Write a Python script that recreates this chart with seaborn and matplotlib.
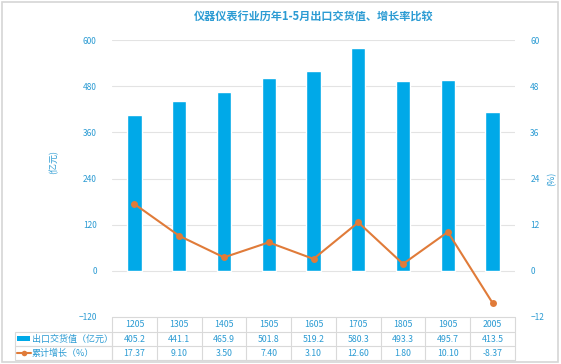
import numpy as np
import matplotlib
matplotlib.use("Agg")
import matplotlib.pyplot as plt
from matplotlib.patches import Rectangle
from matplotlib.lines import Line2D
import seaborn as sns

years = ["1205", "1305", "1405", "1505", "1605", "1705", "1805", "1905", "2005"]
export_value = [405.2, 441.1, 465.9, 501.8, 519.2, 580.3, 493.3, 495.7, 413.5]
growth = [17.37, 9.10, 3.50, 7.40, 3.10, 12.60, 1.80, 10.10, -8.37]
left_ticks = [-120, 0, 120, 240, 360, 480, 600]
right_ticks = [-12, 0, 12, 24, 36, 48, 60]
title = "仪器仪表行业历年1-5月出口交货值、增长率比较"
row_labels = ["出口交货值（亿元）", "累计增长（%）"]

BLUE = "#00a9e8"
ORANGE = "#e07b39"
TXT = "#2b9bd3"
GRID = "#e3e3e3"

sns.set_theme(style="white")
plt.rcParams["font.family"] = ["Noto Sans CJK SC", "DejaVu Sans"]

fig = plt.figure(figsize=(5.61, 3.64), dpi=100)
ax = fig.add_axes([112 / 561, 1 - 317 / 364, 403 / 561, 277 / 364])

sns.barplot(x=years, y=export_value, color=BLUE, width=0.32, saturation=1, ax=ax, zorder=3)
ax.set_ylim(-120, 600)
ax.set_xlim(-0.5, len(years) - 0.5)
ax.set_yticks(left_ticks)
ax.set_xticks([])
ax.set_xlabel("")
ax.set_ylabel("(亿元)", color=TXT, fontsize=6.5)
ax.yaxis.set_label_coords(-0.134, 0.56)
for t in left_ticks[1:]:
    ax.axhline(t, color=GRID, lw=0.8, zorder=0)
ax.tick_params(axis="y", colors=TXT, labelsize=6, length=0, pad=11)
for s in ax.spines.values():
    s.set_visible(False)

ax2 = ax.twinx()
sns.lineplot(x=np.arange(len(years)), y=growth, color=ORANGE, lw=1.5, marker="o",
             markersize=5, markeredgewidth=0, ax=ax2, zorder=4)
ax2.set_ylim(-12, 60)
ax2.set_yticks(right_ticks)
ax2.set_ylabel("(%)", color=TXT, fontsize=6.5, rotation=90)
ax2.yaxis.set_label_coords(1.08, 0.5)
ax2.tick_params(axis="y", colors=TXT, labelsize=6, length=0, pad=11)
for s in ax2.spines.values():
    s.set_visible(False)
ax2.set_xlim(-0.5, len(years) - 0.5)

ax.set_title(title, color=TXT, fontsize=8, fontweight="bold", pad=15)

# data table under the plot
trans = ax.get_xaxis_transform()
h = 277.0
rows_y = [0, -15 / h, -29 / h, -43 / h]
tab_color = "#d9d9d9"
for yb in rows_y:
    ax.plot([-0.5, len(years) - 0.5], [yb, yb], transform=trans, color=tab_color, lw=0.8, clip_on=False)
for i in range(len(years) + 1):
    ax.plot([i - 0.5, i - 0.5], [rows_y[0], rows_y[-1]], transform=trans, color=tab_color, lw=0.8, clip_on=False)
for i, yr in enumerate(years):
    ax.text(i, (rows_y[0] + rows_y[1]) / 2, yr, transform=trans, ha="center", va="center",
            color=TXT, fontsize=6.3, clip_on=False)
    ax.text(i, (rows_y[1] + rows_y[2]) / 2, f"{export_value[i]:.1f}", transform=trans, ha="center",
            va="center", color=TXT, fontsize=6.3, clip_on=False)
    ax.text(i, (rows_y[2] + rows_y[3]) / 2, f"{growth[i]:.2f}", transform=trans, ha="center",
            va="center", color=TXT, fontsize=6.3, clip_on=False)

# row label cells (figure pixel coordinates)
def fx(px):
    return px / 561

def fy(py):
    return 1 - py / 364

for top, bot in [(332, 346), (346, 360)]:
    fig.add_artist(Rectangle((fx(15), fy(bot)), fx(112) - fx(15), fy(top) - fy(bot),
                             transform=fig.transFigure, fill=False, ec=tab_color, lw=0.8))
fig.add_artist(Rectangle((fx(17), fy(341)), fx(13), fy(336) - fy(341), transform=fig.transFigure,
                         fc=BLUE, ec="none"))
fig.add_artist(Line2D([fx(17), fx(31)], [fy(353), fy(353)], transform=fig.transFigure, color=ORANGE,
                      lw=1.5))
fig.add_artist(Line2D([fx(24)], [fy(353)], transform=fig.transFigure, color=ORANGE, marker="o",
                      markersize=4, markeredgewidth=0))
fig.text(fx(32), fy(339), row_labels[0], color=TXT, fontsize=6.5, va="center", ha="left")
fig.text(fx(32), fy(353), row_labels[1], color=TXT, fontsize=6.5, va="center", ha="left")

# outer frame
fig.add_artist(Rectangle((fx(2), fy(362)), fx(556), fy(2) - fy(362), transform=fig.transFigure,
                         fill=False, ec="#d6d6d6", lw=1.2))

fig.savefig("out.png", dpi=100)
